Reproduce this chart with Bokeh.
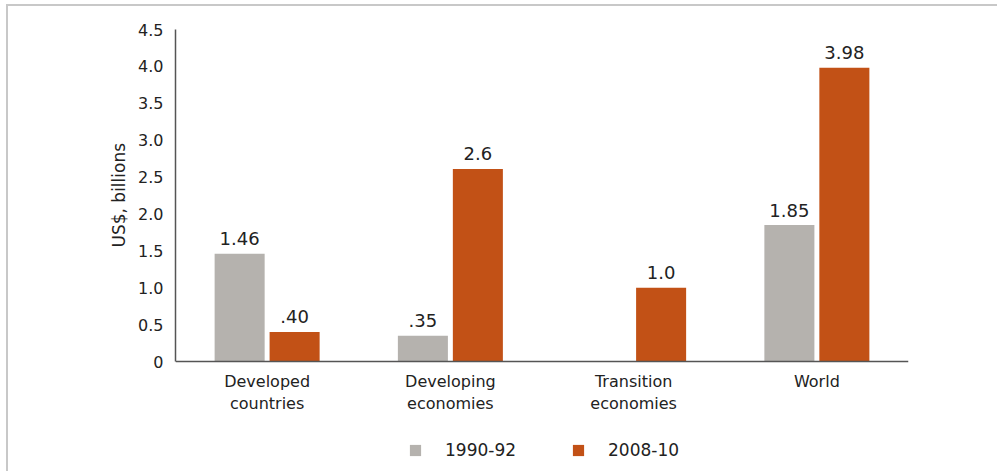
from bokeh.plotting import figure
from bokeh.models import (ColumnDataSource, FactorRange, Range1d, Legend, LegendItem,
                          NumeralTickFormatter, FixedTicker, Title)
from bokeh.transform import dodge
from bokeh.embed import file_html
from bokeh.resources import INLINE
from bokeh.core.properties import value

categories = ["Developed\ncountries", "Developing\neconomies", "Transition\neconomies", "World"]
series_names = ["1990-92", "2008-10"]
values_1990 = [1.46, 0.35, 0.0, 1.85]
values_2008 = [0.40, 2.61, 1.0, 3.98]
labels_1990 = ["1.46", ".35", "", "1.85"]
labels_2008 = [".40", "2.6", "1.0", "3.98"]
y_ticks = [0, 0.5, 1.0, 1.5, 2.0, 2.5, 3.0, 3.5, 4.0, 4.5]
y_label = "US$, billions"

GRAY = "#b5b2ae"
ORANGE = "#c25116"
TEXT = "#222222"
FONT = "DejaVu Sans"

src = ColumnDataSource(dict(cat=categories, v1=values_1990, v2=values_2008,
                            l1=labels_1990, l2=labels_2008))

p = figure(width=991, height=467, output_backend="svg", toolbar_location=None,
           x_range=FactorRange(*categories, range_padding=0),
           y_range=Range1d(-1.518, 4.5),
           min_border_left=167, min_border_right=91, min_border_top=23, min_border_bottom=0)
p.styles = {"margin-left": "6px", "margin-top": "4px",
            "border-left": "2px solid #c8c8c8", "border-top": "2px solid #c8c8c8"}
p.outline_line_color = None
p.grid.grid_line_color = None
p.background_fill_color = "white"
p.border_fill_color = "white"

r1 = p.vbar(x=dodge("cat", -0.15, range=p.x_range), top="v1", width=0.273, source=src,
            fill_color=GRAY, line_color=None)
r2 = p.vbar(x=dodge("cat", 0.15, range=p.x_range), top="v2", width=0.273, source=src,
            fill_color=ORANGE, line_color=None)

for col, lab, off in (("v1", "l1", -0.15), ("v2", "l2", 0.15)):
    p.text(x=dodge("cat", off, range=p.x_range), y=col, text=lab, source=src,
           text_align="center", text_baseline="alphabetic", y_offset=-15,
           text_font=value(FONT), text_font_size="18px", text_color=TEXT)

# axes
p.xaxis.fixed_location = 0
p.yaxis.bounds = (0, 4.5)
p.yaxis.ticker = FixedTicker(ticks=y_ticks)
p.yaxis.formatter = NumeralTickFormatter(format="0.0")
p.yaxis.major_label_overrides = {0: "0"}
for ax in (p.xaxis[0], p.yaxis[0]):
    ax.major_tick_line_color = None
    ax.major_tick_out = 0
    ax.major_tick_in = 0
    ax.minor_tick_line_color = None
    ax.axis_line_color = "#555555"
    ax.axis_line_width = 1.5
    ax.major_label_text_font = FONT
    ax.major_label_text_color = TEXT
p.yaxis.major_label_text_font_size = "16px"
p.yaxis.major_label_standoff = 12
p.xaxis.major_label_text_font_size = "16px"
p.xaxis.major_label_standoff = 10

# y-axis title, centred on the 0..4.5 span of the axis
p.add_layout(Title(text=y_label, align="left", offset=226, standoff=14,
                   text_font=FONT, text_font_size="17px", text_font_style="normal",
                   text_color=TEXT), "left")

# legend
legend = Legend(items=[LegendItem(label=series_names[0], renderers=[r1]),
                       LegendItem(label=series_names[1], renderers=[r2])],
                location=(233, 13), orientation="horizontal",
                glyph_width=14, glyph_height=14, label_standoff=23, spacing=55,
                padding=0, margin=0, border_line_color=None, background_fill_alpha=0,
                label_text_font=FONT, label_text_font_size="17px", label_text_color=TEXT)
p.add_layout(legend, "center")

open("out.html", "w").write(file_html(p, INLINE))
